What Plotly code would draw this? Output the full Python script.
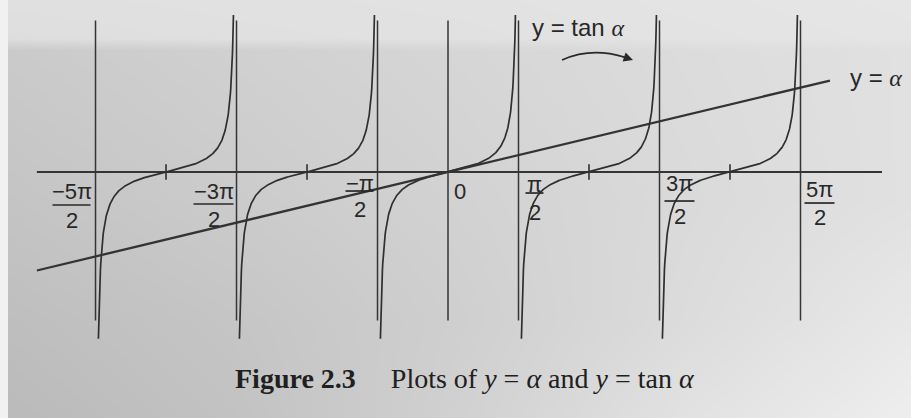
import numpy as np
import plotly.graph_objects as go

PI = np.pi

# Vertical asymptotes of tan(alpha) and the centres of the branches drawn
asymptotes = [-5 * PI / 2, -3 * PI / 2, -PI / 2, PI / 2, 3 * PI / 2, 5 * PI / 2]
branch_centres = [-2 * PI, -PI, 0.0, PI, 2 * PI]
zero_ticks = [-2 * PI, -PI, PI, 2 * PI]

# Axis labels written as fractions: value, numerator, denominator
label_values = [-5 * PI / 2, -3 * PI / 2, -PI / 2, 0.0, PI / 2, 3 * PI / 2, 5 * PI / 2]
label_numerators = ["\u22125\u03c0", "\u22123\u03c0", "\u2212\u03c0", "0", "\u03c0", "3\u03c0", "5\u03c0"]
label_denominators = ["2", "2", "2", "", "2", "2", "2"]

# Extents of the drawn lines (in alpha / y units)
alpha_line_span = [-9.16, 8.51]      # y = alpha
axis_span = [-9.16, 9.67]            # horizontal axis
tan_y_limits = [-15.5, 14.6]         # where each tan branch is cut off
vline_y_limits = [-13.8, 14.1]       # asymptote lines and the y axis

# ---- figure geometry -------------------------------------------------------
W, H = 911, 418
X_RANGE = [-9.982, 10.316]
Y_RANGE = [-22.88, 16.0]


def px_x(p):
    return X_RANGE[0] + p / W * (X_RANGE[1] - X_RANGE[0])


def px_y(p):
    return Y_RANGE[1] - p / H * (Y_RANGE[1] - Y_RANGE[0])


INK = "#2f2f2f"
TEXT = "#282828"

fig = go.Figure()

# paper tone behind the drawing (lighter to the right, darker lower left)
bg_cols_px = [0, 230, 460, 690, 911]
bg_rows_px = [0, 38, 50, 200, 320, 418]
bg_grey = [
    [224, 225, 226, 228, 230],
    [222, 224, 225, 227, 229],
    [202, 208, 214, 220, 225],
    [196, 203, 210, 218, 225],
    [190, 197, 207, 220, 232],
    [186, 194, 209, 226, 238],
]
fig.add_trace(go.Heatmap(
    x=[px_x(p) for p in bg_cols_px],
    y=[px_y(p) for p in bg_rows_px],
    z=bg_grey, zmin=0, zmax=255, zsmooth="best",
    colorscale=[[0, "rgb(0,0,0)"], [1, "rgb(255,255,255)"]],
    showscale=False, hoverinfo="skip",
))

# asymptotes and the y axis
vx, vy = [], []
for a in asymptotes + [0.0]:
    vx += [a, a, None]
    vy += [vline_y_limits[0], vline_y_limits[1], None]
fig.add_trace(go.Scatter(x=vx, y=vy, mode="lines",
                         line=dict(color="#353535", width=1.5), hoverinfo="skip"))

# horizontal axis
fig.add_trace(go.Scatter(x=axis_span, y=[0, 0], mode="lines",
                         line=dict(color="#353535", width=2.2), hoverinfo="skip"))

# branches of y = tan(alpha)
for c in branch_centres:
    theta = np.linspace(np.arctan(tan_y_limits[0]), np.arctan(tan_y_limits[1]), 400)
    alpha = c + theta
    fig.add_trace(go.Scatter(x=alpha, y=np.tan(alpha), mode="lines",
                             line=dict(color=INK, width=1.7), hoverinfo="skip"))

# y = alpha
fig.add_trace(go.Scatter(x=alpha_line_span, y=alpha_line_span, mode="lines",
                         line=dict(color="#333333", width=2.3), hoverinfo="skip"))

# small ticks where tan(alpha) crosses the axis
fig.add_trace(go.Scatter(x=zero_ticks, y=[0] * len(zero_ticks), mode="markers",
                         marker=dict(symbol="line-ns", size=11,
                                     line=dict(color=INK, width=1.6)),
                         hoverinfo="skip"))

# fraction labels along the axis: x offset, numerator/bar/denominator depth, bar width (px)
label_place = [
    (-24, 19, 33, 48, 38),
    (-23, 19, 32, 47, 40),
    (-18, 11, 19, 37, 28),
    (12, 19, None, None, 0),
    (16, 12, 21, 40, 18),
    (20, 11, 29, 44, 30),
    (19, 17, 31, 45, 30),
]
annotations = []
shapes = []
for v, num, den, (dx, ny, by, dy, bw) in zip(label_values, label_numerators,
                                              label_denominators, label_place):
    annotations.append(dict(x=v, y=0, xref="x", yref="y", text=num, showarrow=False,
                            xshift=dx, yshift=-ny, xanchor="center", yanchor="middle",
                            font=dict(family="Liberation Sans", size=22, color=TEXT)))
    if den:
        annotations.append(dict(x=v, y=0, xref="x", yref="y", text=den, showarrow=False,
                                xshift=dx, yshift=-dy, xanchor="center", yanchor="middle",
                                font=dict(family="Liberation Sans", size=22, color=TEXT)))
        shapes.append(dict(type="line", xref="x", yref="y",
                           xsizemode="pixel", ysizemode="pixel",
                           xanchor=v, yanchor=0,
                           x0=dx - bw / 2, x1=dx + bw / 2, y0=-by, y1=-by,
                           line=dict(color=TEXT, width=1.7)))

# curve labels
alpha_txt = "<span style=\"font-family:Liberation Serif\"><i>\u03b1</i></span>"
annotations.append(dict(x=px_x(578), y=px_y(27), xref="x", yref="y", showarrow=False,
                        text="y = tan " + alpha_txt,
                        font=dict(family="Liberation Sans", size=24, color=TEXT)))
annotations.append(dict(x=px_x(876), y=px_y(77), xref="x", yref="y", showarrow=False,
                        text="y = " + alpha_txt,
                        font=dict(family="Liberation Sans", size=24, color=TEXT)))

# curved arrow pointing at a branch
shapes.append(dict(type="path", xref="x", yref="y",
                   path=f"M {px_x(562)},{px_y(60)} Q {px_x(591)},{px_y(47)} {px_x(624)},{px_y(57)}",
                   line=dict(color=TEXT, width=1.7)))
annotations.append(dict(x=px_x(633), y=px_y(60), xref="x", yref="y", text="",
                        showarrow=True, ax=-12, ay=-4, arrowhead=2, arrowsize=1.1,
                        arrowwidth=1.7, arrowcolor=TEXT))

# caption
annotations.append(dict(x=465 / W, y=1 - 378 / H, xref="paper", yref="paper",
                        showarrow=False, xanchor="center", yanchor="middle",
                        text="<b>Figure 2.3</b>\u2003\u2005Plots of <i>y</i> = <i>\u03b1</i> and <i>y</i> = tan <i>\u03b1</i>",
                        font=dict(family="Liberation Serif", size=28, color="#202020")))

# bright strip at the left edge of the page
shapes.append(dict(type="rect", xref="paper", yref="paper", x0=0, x1=8 / W, y0=0, y1=1,
                   fillcolor="#f1f1f1", line=dict(width=0), layer="above"))

fig.update_layout(
    width=W, height=H, autosize=False,
    margin=dict(l=0, r=0, t=0, b=0),
    paper_bgcolor="#d6d6d6", plot_bgcolor="#d6d6d6",
    showlegend=False,
    xaxis=dict(range=X_RANGE, visible=False, fixedrange=True),
    yaxis=dict(range=Y_RANGE, visible=False, fixedrange=True),
    annotations=annotations, shapes=shapes,
)

fig.write_html("out.html")
